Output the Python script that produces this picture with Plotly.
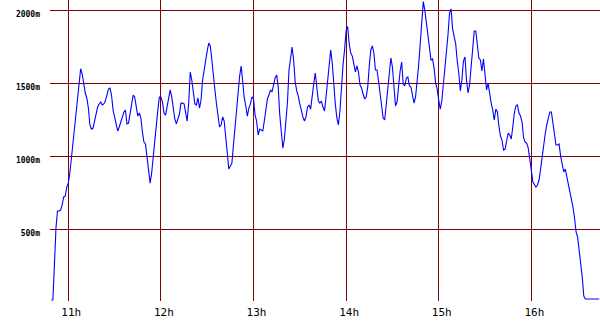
import plotly.graph_objects as go

DAY = "2024-01-01"

# Altitude (m), one reading per minute, grouped by hour of day
alt_10h_from_49 = [16, 16, 256, 509, 626, 626, 632, 667, 722, 728, 790]
alt_11h = [817, 886, 989, 1091, 1208, 1311, 1393, 1502, 1600, 1564,
           1496, 1434, 1400, 1331, 1215, 1187, 1194, 1249, 1304, 1338,
           1359, 1372, 1352, 1359, 1379, 1420, 1461, 1468, 1420, 1317,
           1263, 1208, 1174, 1201, 1242, 1276, 1304, 1317, 1222, 1228,
           1283, 1338, 1420, 1407, 1324, 1276, 1297, 1263, 1167, 1098,
           1085, 996, 927, 817, 886, 1002, 1098, 1194, 1317, 1407]
alt_12h = [1407, 1372, 1297, 1283, 1345, 1393, 1455, 1407, 1324, 1256,
           1222, 1249, 1290, 1365, 1365, 1359, 1304, 1242, 1365, 1578,
           1523, 1441, 1359, 1352, 1400, 1331, 1386, 1523, 1598, 1653,
           1722, 1776, 1756, 1660, 1537, 1455, 1359, 1283, 1201, 1215,
           1270, 1242, 1126, 1002, 913, 934, 954, 1078, 1201, 1324,
           1468, 1550, 1619, 1502, 1400, 1345, 1276, 1331, 1359, 1407]
alt_13h = [1393, 1283, 1242, 1146, 1187, 1180, 1174, 1242, 1338, 1393,
           1420, 1455, 1441, 1482, 1537, 1557, 1475, 1286, 1146, 1057,
           1119, 1228, 1372, 1592, 1681, 1749, 1660, 1509, 1448, 1413,
           1359, 1304, 1270, 1242, 1270, 1338, 1352, 1324, 1393, 1496,
           1571, 1461, 1379, 1365, 1379, 1338, 1311, 1407, 1509, 1633,
           1729, 1639, 1482, 1359, 1263, 1215, 1311, 1496, 1626, 1729]
alt_14h = [1859, 1890, 1770, 1708, 1687, 1633, 1578, 1619, 1578, 1489,
           1468, 1427, 1393, 1407, 1475, 1619, 1729, 1756, 1708, 1592,
           1592, 1516, 1434, 1352, 1263, 1249, 1352, 1475, 1578, 1674,
           1612, 1475, 1345, 1372, 1482, 1585, 1646, 1496, 1482, 1537,
           1544, 1482, 1475, 1427, 1365, 1407, 1509, 1626, 1770, 1907,
           2060, 2002, 1913, 1838, 1763, 1660, 1667, 1605, 1502, 1461]
alt_15h = [1386, 1324, 1379, 1482, 1585, 1701, 1831, 1980, 2010, 1872,
           1831, 1770, 1653, 1571, 1448, 1523, 1653, 1681, 1523, 1434,
           1489, 1626, 1783, 1859, 1859, 1756, 1674, 1660, 1585, 1667,
           1578, 1455, 1502, 1427, 1365, 1317, 1249, 1324, 1304, 1208,
           1139, 1112, 1043, 1050, 1119, 1160, 1146, 1119, 1201, 1297,
           1345, 1352, 1297, 1276, 1235, 1126, 1098, 1091, 1057, 996]
alt_16h = [906, 824, 810, 790, 804, 838, 913, 1002, 1085, 1153,
           1215, 1256, 1304, 1304, 1235, 1146, 1078, 1078, 1085, 1002,
           941, 893, 913, 865, 804, 756, 701, 653, 578, 482,
           447, 365, 270, 173, 43, 23, 23, 23, 23, 23,
           23, 23, 23, 23, 23]

hour_blocks = [(10, 49, alt_10h_from_49), (11, 0, alt_11h), (12, 0, alt_12h),
               (13, 0, alt_13h), (14, 0, alt_14h), (15, 0, alt_15h), (16, 0, alt_16h)]

y_tick_vals = [500, 1000, 1500, 2000]
y_tick_text = ["500m", "1000m", "1500m", "2000m"]

times, alts = [], []
for hour, first_min, block in hour_blocks:
    for i, a in enumerate(block):
        times.append(f"{DAY} {hour:02d}:{first_min + i:02d}:00")
        alts.append(a)

fig = go.Figure(go.Scatter(x=times, y=alts, mode="lines",
                           line=dict(color="#0000ff", width=1.1),
                           hoverinfo="skip"))

grid_col = "#800000"
fig.update_layout(
    width=600, height=330,
    margin=dict(l=50, r=0, t=0, b=29, pad=0),
    paper_bgcolor="white", plot_bgcolor="white",
    showlegend=False,
    xaxis=dict(type="date",
               range=[f"{DAY} 10:48:08", f"{DAY} 16:44:30"],
               tick0=f"{DAY} 00:00:00", dtick=3600000, tickformat="%Hh",
               showgrid=True, gridcolor=grid_col, gridwidth=1,
               zeroline=False, showline=False, ticks="",
               tickfont=dict(family="DejaVu Sans Mono", size=11, color="black"),
               ticklabelshift=3, ticklabelstandoff=3),
    yaxis=dict(range=[9.4, 2071], tickvals=y_tick_vals, ticktext=y_tick_text,
               showgrid=True, gridcolor=grid_col, gridwidth=1,
               zeroline=False, showline=False, ticks="",
               tickfont=dict(family="DejaVu Sans Mono", size=8, color="black", weight="bold"),
               ticklabelshift=4, ticklabelstandoff=9),
)

fig.write_html("out.html")
